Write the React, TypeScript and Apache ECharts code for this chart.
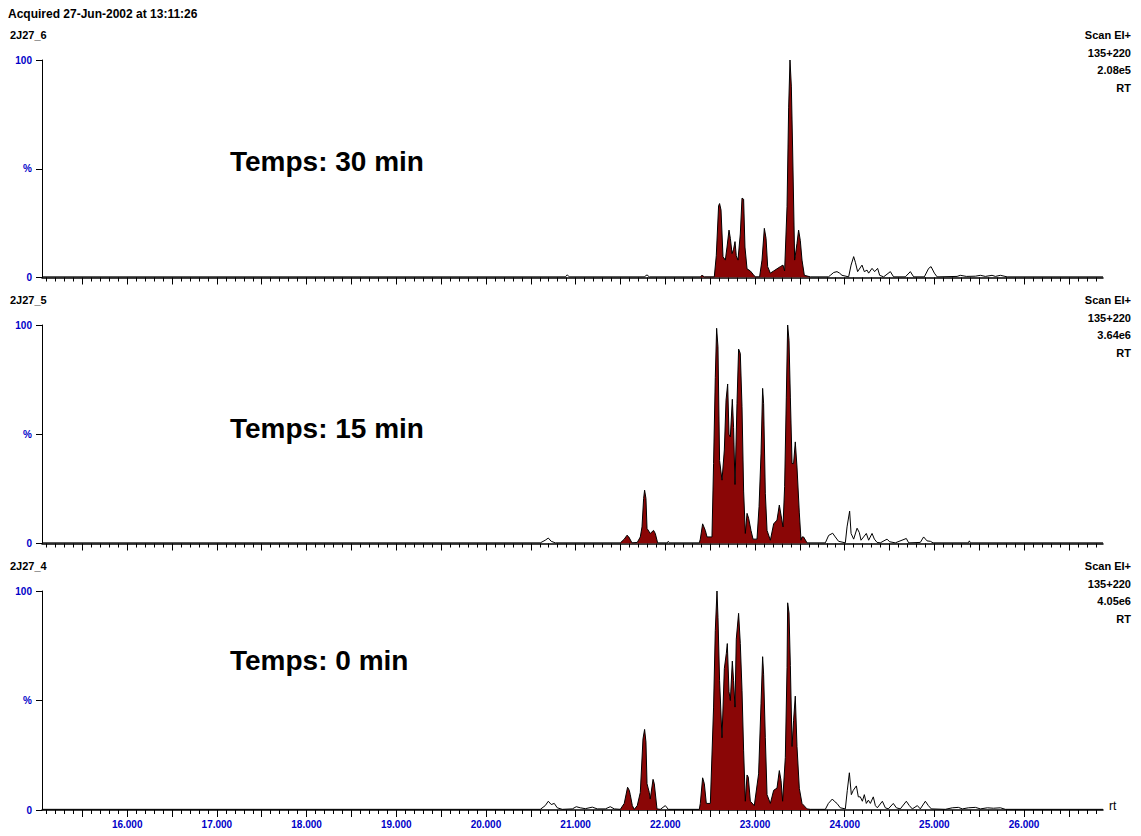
import React, { useEffect, useRef } from 'react';
import * as echarts from 'echarts';

// ---- data ----
const xLabels = [16, 17, 18, 19, 20, 21, 22, 23, 24, 25, 26];
const xMin = 15.05;
const xMax = 26.88;

const sampleNames = ['2J27_6', '2J27_5', '2J27_4'];
const scanLines = ['Scan EI+', '135+220'];
const intensities = ['2.08e5', '3.64e6', '4.05e6'];
const timeLabels = ['Temps: 30 min', 'Temps: 15 min', 'Temps: 0 min'];
const acquired = 'Acquired 27-Jun-2002 at 13:11:26';

const trace30: [number, number][] = [
  [15.05, 0.3], [20.884, 0.3], [20.907, 1.2], [20.929, 0.3], [21.765, 0.3], [21.796, 1.2], [21.821, 0.3],
  [22.39, 0.3], [22.409, 1], [22.435, 0.3], [22.546, 0.3], [22.568, 10], [22.594, 33], [22.605, 34],
  [22.621, 31], [22.643, 9.6], [22.669, 8], [22.688, 14], [22.71, 21.8], [22.725, 18], [22.744, 11],
  [22.761, 13], [22.777, 16.5], [22.791, 10], [22.81, 8], [22.836, 20], [22.855, 36.5], [22.873, 36],
  [22.888, 14], [22.911, 4], [22.948, 3], [22.978, 1.5], [23.003, 0.3], [23.051, 0.3], [23.078, 8],
  [23.104, 22.6], [23.123, 18], [23.141, 5], [23.171, 2], [23.208, 3], [23.245, 4], [23.282, 5],
  [23.312, 5.7], [23.33, 3], [23.357, 32.6], [23.375, 78], [23.39, 100], [23.405, 88], [23.419, 60],
  [23.442, 8], [23.468, 15.7], [23.486, 21.8], [23.505, 17], [23.524, 8], [23.55, 1], [23.617, 0.3],
  [23.818, 0.3], [23.84, 1], [23.877, 2.3], [23.914, 2.7], [23.943, 2], [23.97, 1], [24.044, 0.3],
  [24.071, 5.7], [24.1, 9.6], [24.119, 7], [24.144, 2.7], [24.193, 5.7], [24.219, 2.7], [24.249, 3.4],
  [24.267, 2], [24.305, 4.2], [24.334, 2.7], [24.367, 4.2], [24.39, 1], [24.434, 0.3], [24.509, 2.7],
  [24.545, 0.3], [24.676, 0.3], [24.732, 2.7], [24.769, 0.3], [24.888, 0.3], [24.936, 4.2], [24.963, 5],
  [25.0, 2], [25.03, 0.3], [25.253, 0.5], [25.289, 1], [25.356, 0.5], [25.457, 0.6], [25.513, 1],
  [25.568, 0.5], [25.643, 1], [25.68, 0.5], [25.736, 1], [25.811, 0.3], [26.88, 0.3],
];
const fill30: [number, number][] = [[22.39, 22.435], [22.546, 23.003], [23.051, 23.617]];

const trace15: [number, number][] = [
  [15.05, 0.3], [20.606, 0.3], [20.661, 1.5], [20.695, 2.5], [20.728, 1], [20.773, 0.3], [21.498, 0.3],
  [21.542, 2], [21.573, 3.8], [21.593, 3], [21.628, 0.3], [21.687, 0.5], [21.721, 3], [21.74, 7.6],
  [21.758, 20.6], [21.769, 24.4], [21.784, 20.6], [21.796, 6.9], [21.832, 4.6], [21.869, 6], [21.888, 4.6],
  [21.914, 0.3], [22.022, 0.3], [22.033, 1], [22.044, 0.3], [22.379, 0.3], [22.39, 2], [22.416, 9],
  [22.446, 6], [22.465, 3], [22.52, 3], [22.538, 36.6], [22.557, 76], [22.572, 98.5], [22.587, 90],
  [22.605, 38], [22.632, 29], [22.658, 42.8], [22.677, 65.6], [22.695, 73], [22.71, 50], [22.725, 48.8],
  [22.747, 66], [22.761, 53], [22.777, 27], [22.799, 64], [22.817, 89], [22.836, 87], [22.855, 62.6],
  [22.873, 24], [22.892, 4.6], [22.911, 13.8], [22.929, 11.5], [22.955, 6], [22.978, 2], [23.022, 2],
  [23.045, 16.9], [23.067, 41], [23.085, 71], [23.096, 64], [23.115, 23], [23.134, 6], [23.171, 1.5],
  [23.208, 9], [23.245, 10.7], [23.271, 17.6], [23.29, 13], [23.312, 7.6], [23.33, 26], [23.349, 67],
  [23.364, 100], [23.379, 93], [23.394, 67], [23.413, 36.6], [23.43, 36.6], [23.449, 46.5], [23.468, 35],
  [23.494, 14], [23.513, 1.5], [23.524, 3], [23.542, 3], [23.58, 0.3], [23.784, 0.3], [23.821, 3.7],
  [23.866, 4.7], [23.895, 3], [23.932, 1], [24.007, 0.3], [24.026, 7.6], [24.055, 14.8], [24.071, 4.6],
  [24.1, 2], [24.138, 7], [24.163, 5], [24.182, 1.5], [24.211, 3], [24.241, 4.6], [24.267, 1.5],
  [24.305, 4.6], [24.331, 2], [24.361, 0.5], [24.397, 0.3], [24.472, 2], [24.501, 0.8], [24.564, 0.3],
  [24.687, 2.3], [24.713, 0.3], [24.843, 0.5], [24.88, 3], [24.918, 1.2], [24.955, 1], [24.985, 0.3],
  [25.379, 0.3], [25.39, 1.2], [25.401, 0.3], [26.88, 0.3],
];
const fill15: [number, number][] = [[21.498, 21.628], [21.687, 21.914], [22.379, 23.58]];

const trace0: [number, number][] = [
  [15.05, 0.3], [20.606, 0.3], [20.661, 2], [20.695, 4], [20.728, 2.5], [20.762, 3], [20.795, 1],
  [20.851, 0.3], [20.963, 0.5], [21.007, 1.5], [21.052, 1], [21.108, 0.6], [21.186, 1.3], [21.241, 0.5],
  [21.331, 0.5], [21.386, 1.5], [21.431, 0.5], [21.498, 0.3], [21.542, 3], [21.579, 10.4], [21.598, 9],
  [21.609, 7], [21.632, 2], [21.654, 0.3], [21.687, 2], [21.721, 8], [21.751, 32.5], [21.769, 36.8],
  [21.784, 31], [21.796, 12], [21.821, 8], [21.832, 5], [21.863, 14], [21.877, 12], [21.907, 0.5],
  [21.944, 0.3], [22.0, 2], [22.033, 0.3], [22.379, 0.3], [22.39, 3], [22.416, 14.7], [22.435, 12],
  [22.457, 3], [22.502, 3], [22.538, 47], [22.557, 82], [22.576, 100], [22.587, 88], [22.605, 59],
  [22.632, 33], [22.658, 64.6], [22.68, 71.5], [22.691, 76], [22.71, 54], [22.725, 50], [22.747, 68],
  [22.761, 59], [22.777, 47], [22.791, 78], [22.817, 89.8], [22.836, 76], [22.855, 54.7], [22.873, 27],
  [22.892, 4], [22.911, 16], [22.925, 15], [22.948, 4], [22.992, 2], [23.04, 16.5], [23.067, 48.5],
  [23.085, 70], [23.096, 62], [23.115, 33], [23.134, 7], [23.171, 3], [23.208, 9], [23.245, 10],
  [23.271, 18], [23.29, 13.5], [23.308, 4], [23.338, 24], [23.357, 65], [23.364, 94.6], [23.379, 90],
  [23.394, 66], [23.413, 29], [23.43, 41], [23.449, 52], [23.468, 29], [23.494, 9.9], [23.524, 3],
  [23.58, 0.5], [23.617, 0.3], [23.784, 0.3], [23.818, 3], [23.862, 5], [23.884, 4], [23.914, 3],
  [23.951, 1], [24.007, 0.5], [24.029, 9], [24.052, 17], [24.074, 7], [24.096, 9], [24.13, 11],
  [24.152, 6], [24.174, 6], [24.197, 4], [24.219, 7], [24.241, 3], [24.264, 4.5], [24.286, 3],
  [24.319, 6], [24.342, 2], [24.364, 1], [24.42, 4], [24.453, 1], [24.486, 0.5], [24.542, 3],
  [24.576, 1], [24.62, 0.5], [24.687, 4], [24.721, 2], [24.754, 0.5], [24.81, 2], [24.843, 0.5],
  [24.899, 4], [24.933, 2], [24.966, 0.5], [25.122, 0.3], [25.2, 1], [25.267, 1.2], [25.312, 0.5],
  [25.379, 1], [25.457, 1.2], [25.513, 0.5], [25.591, 1], [25.658, 0.8], [25.736, 1], [25.792, 0.3],
  [26.88, 0.3],
];
const fill0: [number, number][] = [[21.498, 21.654], [21.687, 21.944], [22.379, 23.617]];

const traces = [trace30, trace15, trace0];
const fills = [fill30, fill15, fill0];

// ---- styling ----
const RED = '#8a0606';
const BLUE = '#0000c8';
const FONT = '"Liberation Sans", Arial, sans-serif';

const majorTicks: number[] = [];
for (let k = 31; k <= 53; k++) majorTicks.push(k / 2);
const minorTicks: number[] = [];
for (let k = 151; k <= 268; k++) if (k % 5 !== 0) minorTicks.push(k / 10);

export default function App() {
  const ref = useRef<HTMLDivElement>(null);
  useEffect(() => {
    const chart = echarts.init(ref.current!, null, { renderer: 'svg' });
    const tops = [60, 325, 591];
    const heights = [217.5, 218.5, 219];

    const grids = tops.map((t, i) => ({ left: 42, right: 38, top: t, height: heights[i] }));
    const xAxes: any[] = [];
    const yAxes: any[] = [];
    const series: any[] = [];
    const graphics: any[] = [];

    tops.forEach((top, i) => {
      xAxes.push({
        type: 'value', gridIndex: i, min: xMin, max: xMax, position: 'bottom', offset: 0,
        axisLine: { show: true, onZero: false, lineStyle: { color: '#000', width: 1.5 } },
        axisTick: { show: true, customValues: majorTicks, length: 7, lineStyle: { color: '#000', width: 1 } },
        axisLabel: {
          show: i === 2, customValues: xLabels, margin: 9, color: BLUE, fontSize: 10, fontWeight: 'bold',
          fontFamily: FONT, formatter: (v: number) => v.toFixed(3),
        },
        splitLine: { show: false },
      });
      xAxes.push({
        type: 'value', gridIndex: i, min: xMin, max: xMax, position: 'bottom', offset: 0,
        axisLine: { show: false, onZero: false },
        axisTick: { show: true, customValues: minorTicks, length: 4, lineStyle: { color: '#000', width: 1 } },
        axisLabel: { show: false },
        splitLine: { show: false },
      });
      yAxes.push({
        type: 'value', gridIndex: i, min: 0, max: 100, interval: 50,
        axisLine: { show: true, lineStyle: { color: '#000', width: 1 } },
        axisTick: { show: true, length: 6, lineStyle: { color: '#000' } },
        axisLabel: {
          color: BLUE, fontSize: 10, fontWeight: 'bold', fontFamily: FONT, margin: 10,
          formatter: (v: number) => (v === 50 ? '%' : String(v)),
        },
        splitLine: { show: false },
      });

      const tr = traces[i];
      const fr = fills[i];
      const fillData = tr.map(([t, v]) =>
        fr.some(([a, b]) => t >= a - 1e-9 && t <= b + 1e-9) ? [t, v] : [t, null]
      );
      series.push({
        type: 'line', xAxisIndex: 2 * i, yAxisIndex: i, data: fillData, symbol: 'none',
        connectNulls: false, lineStyle: { width: 0, opacity: 0 }, areaStyle: { color: RED, opacity: 1 },
        silent: true, z: 2,
      });
      series.push({
        type: 'line', xAxisIndex: 2 * i, yAxisIndex: i, data: tr, symbol: 'none',
        lineStyle: { color: '#000', width: 1 }, silent: true, z: 3,
      });

      const titleY = top - 25;
      graphics.push({
        type: 'text', x: 10, y: titleY,
        style: { text: sampleNames[i], fill: '#000', font: `bold 11px ${FONT}`, textVerticalAlign: 'middle' },
      });
      const rightLines = [scanLines[0], scanLines[1], intensities[i], 'RT'];
      rightLines.forEach((s, j) => {
        graphics.push({
          type: 'text', x: 1131, y: titleY + j * 17.7,
          style: { text: s, fill: '#000', font: `bold 11px ${FONT}`, textAlign: 'right', textVerticalAlign: 'middle' },
        });
      });
      graphics.push({
        type: 'text', x: 230, y: [161, 428, 660][i],
        style: { text: timeLabels[i], fill: '#000', font: `bold 28px ${FONT}`, textVerticalAlign: 'middle' },
      });
    });

    graphics.push({
      type: 'text', x: 8, y: 14,
      style: { text: acquired, fill: '#000', font: `bold 12px ${FONT}`, textVerticalAlign: 'middle' },
    });
    graphics.push({
      type: 'text', x: 1109, y: 806,
      style: { text: 'rt', fill: '#000', font: `12px ${FONT}`, textVerticalAlign: 'middle' },
    });

    chart.setOption({
      animation: false,
      backgroundColor: '#fff',
      grid: grids,
      xAxis: xAxes,
      yAxis: yAxes,
      series,
      graphic: graphics,
    });
    return () => chart.dispose();
  }, []);
  return (
    <div
      ref={ref}
      style={{ position: 'absolute', left: 0, top: 0, width: 1141, height: 836, background: '#fff' }}
    />
  );
}
